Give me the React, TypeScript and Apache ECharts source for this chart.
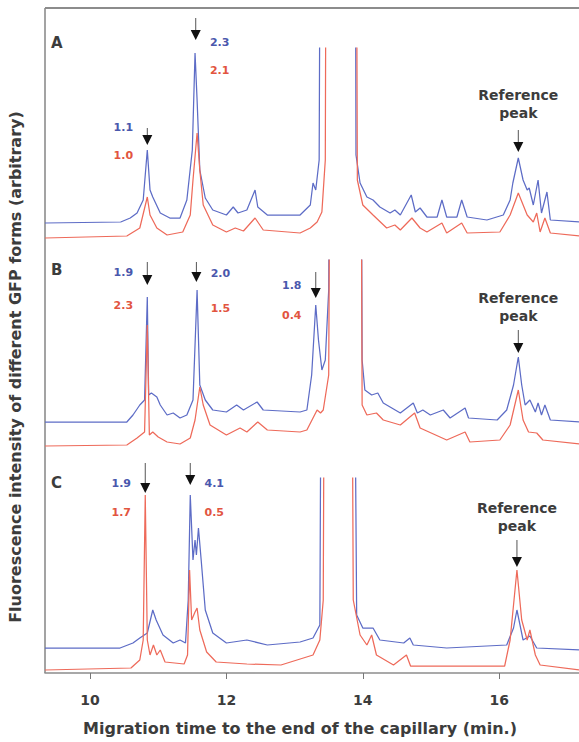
import React, { useEffect, useRef } from 'react';
import * as echarts from 'echarts';

// x tick labels (minutes)
const xTicks = [10, 12, 14, 16];

// Panel A traces: [time (min), intensity (arb.)]; off-scale peaks are given large values
const blueA: [number, number][] = [
  [9.34, 27], [10.45, 28], [10.59, 32], [10.69, 37], [10.78, 50], [10.84, 100], [10.88, 60], [10.92, 53],
  [11.03, 37], [11.17, 32], [11.32, 32], [11.42, 50], [11.5, 100], [11.54, 197], [11.57, 150], [11.61, 80],
  [11.69, 52], [11.8, 40], [12.0, 35], [12.1, 43], [12.17, 37], [12.3, 40], [12.42, 60], [12.46, 43],
  [12.6, 35], [13.08, 35], [13.23, 45], [13.27, 67], [13.31, 60], [13.36, 90], [13.4, 800], [13.65, 900],
  [13.875, 800], [13.9, 95], [13.96, 67], [14.06, 53], [14.15, 50], [14.25, 43], [14.4, 37], [14.47, 40],
  [14.55, 35], [14.71, 55], [14.77, 38], [14.84, 42], [14.94, 33], [15.09, 33], [15.16, 50], [15.23, 33],
  [15.38, 33], [15.45, 50], [15.53, 33], [15.82, 30], [16.06, 35], [16.16, 50], [16.2, 67], [16.28, 92],
  [16.35, 70], [16.41, 60], [16.44, 62], [16.5, 45], [16.57, 70], [16.62, 37], [16.7, 58], [16.75, 30],
  [17.17, 28],
];
const redA: [number, number][] = [
  [9.34, 12], [10.54, 14], [10.73, 22], [10.84, 53], [10.88, 35], [10.98, 22], [11.13, 15], [11.36, 18],
  [11.47, 35], [11.51, 70], [11.57, 117], [11.61, 80], [11.66, 45], [11.8, 25], [12.0, 18], [12.13, 22],
  [12.25, 19], [12.42, 32], [12.54, 20], [13.08, 17], [13.23, 22], [13.33, 28], [13.4, 38], [13.45, 90],
  [13.48, 800], [13.65, 900], [13.885, 800], [13.92, 70], [14.0, 45], [14.15, 35], [14.35, 22], [14.47, 25],
  [14.55, 20], [14.72, 32], [14.84, 22], [14.94, 18], [15.16, 27], [15.23, 17], [15.45, 27], [15.53, 17],
  [16.01, 18], [16.16, 35], [16.28, 57], [16.41, 35], [16.5, 28], [16.55, 37], [16.6, 18], [16.67, 32],
  [16.75, 17], [17.17, 14],
];

// Panel B traces
const blueB: [number, number][] = [
  [9.34, 38], [10.54, 38], [10.63, 45], [10.73, 55], [10.8, 60], [10.84, 163], [10.86, 65], [10.9, 67],
  [10.98, 63], [11.03, 55], [11.13, 45], [11.22, 47], [11.32, 42], [11.42, 45], [11.51, 60], [11.57, 170],
  [11.61, 75], [11.69, 60], [11.8, 50], [12.0, 48], [12.15, 55], [12.25, 50], [12.45, 58], [12.54, 50],
  [13.08, 48], [13.18, 50], [13.25, 85], [13.31, 155], [13.35, 120], [13.4, 90], [13.45, 100], [13.5, 170],
  [13.54, 800], [13.75, 900], [13.95, 800], [13.99, 100], [14.03, 70], [14.13, 65], [14.22, 67], [14.3, 57],
  [14.55, 47], [14.74, 57], [14.8, 47], [14.88, 50], [14.99, 45], [15.18, 50], [15.28, 42], [15.5, 52],
  [15.55, 42], [15.97, 40], [16.11, 50], [16.21, 75], [16.28, 103], [16.33, 75], [16.38, 55], [16.45, 60],
  [16.53, 48], [16.57, 57], [16.62, 45], [16.67, 55], [16.75, 40], [17.17, 38],
];
const redB: [number, number][] = [
  [9.34, 14], [10.54, 15], [10.69, 22], [10.8, 28], [10.84, 135], [10.87, 25], [10.92, 28], [11.0, 23],
  [11.13, 18], [11.32, 16], [11.47, 22], [11.54, 40], [11.61, 73], [11.66, 55], [11.76, 35], [12.0, 25],
  [12.2, 32], [12.3, 28], [12.46, 38], [12.6, 30], [13.08, 28], [13.18, 30], [13.33, 50], [13.38, 47],
  [13.42, 50], [13.5, 85], [13.55, 800], [13.75, 900], [13.95, 800], [13.99, 55], [14.06, 45], [14.2, 47],
  [14.3, 40], [14.55, 35], [14.76, 47], [14.84, 32], [15.23, 20], [15.5, 28], [15.57, 18], [16.01, 20],
  [16.16, 35], [16.28, 70], [16.35, 40], [16.43, 28], [16.55, 27], [16.64, 20], [17.17, 16],
];

// Panel C traces
const blueC: [number, number][] = [
  [9.34, 25], [10.44, 25], [10.63, 30], [10.73, 35], [10.84, 40], [10.92, 63], [10.97, 53], [11.07, 38],
  [11.22, 30], [11.32, 33], [11.4, 30], [11.44, 73], [11.47, 178], [11.51, 113], [11.54, 133], [11.56, 118],
  [11.59, 145], [11.63, 113], [11.69, 63], [11.8, 40], [12.0, 30], [12.3, 33], [12.6, 28], [13.08, 31],
  [13.27, 35], [13.37, 48], [13.42, 800], [13.62, 900], [13.83, 800], [13.91, 58], [14.0, 45], [14.15, 45],
  [14.25, 33], [14.6, 30], [14.69, 35], [14.74, 28], [15.23, 25], [16.11, 28], [16.21, 45], [16.26, 63],
  [16.35, 33], [16.45, 37], [16.55, 25], [17.17, 23],
];
const redC: [number, number][] = [
  [9.34, 3], [10.6, 5], [10.73, 13], [10.78, 33], [10.81, 178], [10.84, 33], [10.88, 18], [10.93, 28],
  [10.98, 18], [11.03, 23], [11.1, 11], [11.38, 9], [11.43, 18], [11.46, 103], [11.49, 53], [11.54, 61],
  [11.57, 65], [11.61, 43], [11.71, 21], [11.85, 11], [12.3, 9], [12.8, 8], [13.27, 18], [13.37, 33],
  [13.42, 73], [13.46, 800], [13.62, 900], [13.81, 800], [13.86, 73], [13.96, 38], [14.06, 28], [14.13, 38],
  [14.2, 18], [14.45, 8], [14.64, 18], [14.7, 7], [16.08, 7], [16.16, 33], [16.26, 103], [16.33, 53],
  [16.41, 33], [16.45, 43], [16.53, 18], [16.6, 8], [17.17, 3],
];

// ratio labels at the marked peaks
const peakTimesA = [10.84, 11.55];
const blueRatiosA = [1.1, 2.3];
const redRatiosA = [1.0, 2.1];
const peakTimesB = [10.84, 11.56, 13.31];
const blueRatiosB = [1.9, 2.0, 1.8];
const redRatiosB = [2.3, 1.5, 0.4];
const peakTimesC = [10.81, 11.47];
const blueRatiosC = [1.9, 4.1];
const redRatiosC = [1.7, 0.5];
const refPeakTimes = [16.28, 16.28, 16.26];

const panelLetters = ['A', 'B', 'C'];
const xTitle = 'Migration time to the end of the capillary (min.)';
const yTitle = 'Fluorescence intensity of different GFP forms (arbitrary)';

const BLUE = '#5d6cc6';
const RED = '#ee6a5a';
const BLUE_TXT = '#4a58ad';
const RED_TXT = '#e2553f';
const TXT = '#3c3c3c';
const FONT = '"DejaVu Sans", "Open Sans", sans-serif';

const X_MIN = 9.34;
const X_MAX = 17.17;

// layout for annotations (pixel positions of the annotation text/arrows)
const peakLayout = [
  // panel A
  [
    { top: 128, bottom: 145, side: -1, by: 127, ry: 155 },
    { top: 18, bottom: 40, side: 1, by: 42, ry: 70 },
  ],
  // panel B
  [
    { top: 262, bottom: 285, side: -1, by: 272, ry: 305 },
    { top: 262, bottom: 282, side: 1, by: 273, ry: 308 },
    { top: 272, bottom: 298, side: -1, by: 285, ry: 315 },
  ],
  // panel C
  [
    { top: 463, bottom: 493, side: -1, by: 483, ry: 512 },
    { top: 463, bottom: 485, side: 1, by: 483, ry: 512 },
  ],
];
const refLayout = [
  { textY: 104, top: 130, bottom: 152 },
  { textY: 307, top: 330, bottom: 353 },
  { textY: 517, top: 540, bottom: 567 },
];
const letterY = [43, 270, 483];

export default function App() {
  const ref = useRef<HTMLDivElement>(null);

  useEffect(() => {
    const el = ref.current;
    if (!el) return;
    const chart = echarts.init(el, null, { renderer: 'svg' });

    const grids = [
      { left: 45, top: 48, width: 534, height: 202 },
      { left: 45, top: 260, width: 534, height: 200 },
      { left: 45, top: 478, width: 534, height: 195 },
    ];

    const xAxes = [0, 1, 2].map((i) => ({
      type: 'value',
      gridIndex: i,
      min: X_MIN,
      max: X_MAX,
      show: i === 2,
      splitLine: { show: false },
      axisLine: { show: i === 2, lineStyle: { color: '#8c8c8c', width: 1.6 } },
      axisTick: {
        show: i === 2,
        customValues: xTicks,
        length: 6,
        lineStyle: { color: '#777', width: 1 },
      },
      axisLabel: {
        show: i === 2,
        customValues: xTicks,
        margin: 20,
        fontSize: 14,
        fontWeight: 'bold',
        fontFamily: FONT,
        color: TXT,
      },
    }));

    const yMax = [202, 200, 195];
    const yAxes = [0, 1, 2].map((i) => ({
      type: 'value',
      gridIndex: i,
      min: 0,
      max: yMax[i],
      show: false,
      splitLine: { show: false },
    }));

    const traces = [
      [blueA, redA],
      [blueB, redB],
      [blueC, redC],
    ];
    const series: any[] = [];
    traces.forEach(([b, r], i) => {
      series.push({
        type: 'line',
        xAxisIndex: i,
        yAxisIndex: i,
        data: b,
        symbol: 'none',
        clip: true,
        lineStyle: { color: BLUE, width: 1.25 },
        z: 2,
      });
      series.push({
        type: 'line',
        xAxisIndex: i,
        yAxisIndex: i,
        data: r,
        symbol: 'none',
        clip: true,
        lineStyle: { color: RED, width: 1.25 },
        z: 3,
      });
    });

    chart.setOption({
      animation: false,
      backgroundColor: '#fff',
      grid: grids,
      xAxis: xAxes,
      yAxis: yAxes,
      series,
    });

    const px = (i: number, t: number) =>
      chart.convertToPixel({ xAxisIndex: i }, t) as unknown as number;

    const graphic: any[] = [];
    const arrow = (x: number, top: number, bottom: number) => {
      graphic.push({
        type: 'line',
        shape: { x1: x, y1: top, x2: x, y2: bottom - 6 },
        style: { stroke: '#555', lineWidth: 1 },
      });
      graphic.push({
        type: 'polygon',
        shape: { points: [[x - 5, bottom - 10], [x + 5, bottom - 10], [x, bottom]] },
        style: { fill: '#111' },
      });
    };
    const txt = (
      x: number,
      y: number,
      text: string,
      color: string,
      size: number,
      align = 'center',
      rotation = 0,
    ) => {
      graphic.push({
        type: 'text',
        x,
        y,
        rotation,
        style: {
          text,
          fill: color,
          fontSize: size,
          fontWeight: 'bold',
          fontFamily: FONT,
          align,
          verticalAlign: 'middle',
          lineHeight: 18,
        },
      });
    };

    const peakSets = [
      [peakTimesA, blueRatiosA, redRatiosA],
      [peakTimesB, blueRatiosB, redRatiosB],
      [peakTimesC, blueRatiosC, redRatiosC],
    ];
    peakSets.forEach(([times, bl, rd], i) => {
      times.forEach((t, k) => {
        const L = peakLayout[i][k];
        const x = px(i, t);
        arrow(x, L.top, L.bottom);
        const lx = x + L.side * 24;
        txt(lx, L.by, bl[k].toFixed(1), BLUE_TXT, 11);
        txt(lx, L.ry, rd[k].toFixed(1), RED_TXT, 11);
      });
      const rx = px(i, refPeakTimes[i]);
      const R = refLayout[i];
      txt(rx, R.textY, 'Reference\npeak', TXT, 14);
      arrow(rx, R.top, R.bottom);
      txt(51, letterY[i], panelLetters[i], TXT, 15, 'left');
    });

    // frame
    graphic.push({
      type: 'line',
      shape: { x1: 45, y1: 8, x2: 579, y2: 8 },
      style: { stroke: '#8c8c8c', lineWidth: 2 },
    });
    graphic.push({
      type: 'line',
      shape: { x1: 45, y1: 8, x2: 45, y2: 673 },
      style: { stroke: '#8c8c8c', lineWidth: 1.6 },
    });
    // axis titles
    txt(300, 728, xTitle, TXT, 16);
    txt(15, 367, yTitle, TXT, 16, 'center', Math.PI / 2);

    chart.setOption({ graphic });

    return () => chart.dispose();
  }, []);

  return (
    <div
      ref={ref}
      style={{ position: 'fixed', left: 0, top: 0, width: 579, height: 742, background: '#fff' }}
    />
  );
}
